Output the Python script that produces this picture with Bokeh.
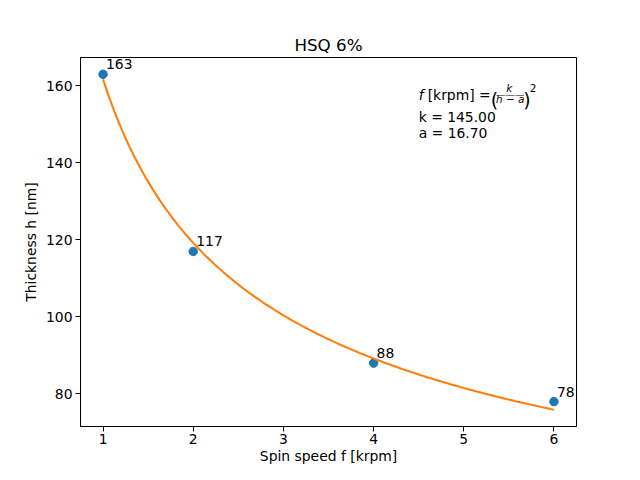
import numpy as np
from bokeh.plotting import figure
from bokeh.models import Range1d, Label, FixedTicker, ColumnDataSource, LabelSet
from bokeh.core.properties import value
from bokeh.embed import file_html
from bokeh.resources import INLINE

# Data
speed_krpm = [1, 2, 4, 6]
thickness_nm = [163, 117, 88, 78]
point_labels = ["163", "117", "88", "78"]
fit_k = 145.00
fit_a = 16.70
x_ticks = [1, 2, 3, 4, 5, 6]
y_ticks = [80, 100, 120, 140, 160]

# Fit curve h = a + k / sqrt(f)
f_fit = np.linspace(min(speed_krpm), max(speed_krpm), 200)
h_fit = fit_a + fit_k / np.sqrt(f_fit)

FONT = "DejaVu Sans"

p = figure(width=624, height=464, output_backend="svg", toolbar_location=None,
           x_range=Range1d(0.75, 6.25), y_range=Range1d(71.54, 167.36),
           frame_width=496, frame_height=369,
           min_border_left=80, min_border_right=48, min_border_top=57, min_border_bottom=38,
           title="HSQ 6%")
p.background_fill_color = "white"
p.border_fill_color = "white"
p.outline_line_color = "black"
p.outline_line_width = 1
p.xgrid.visible = False
p.ygrid.visible = False

p.title.align = "center"
p.title.text_font = FONT
p.title.text_font_size = "16.7px"
p.title.text_font_style = "normal"
p.title.text_color = "black"
p.title.standoff = 6

for ax in (p.xaxis[0], p.yaxis[0]):
    ax.axis_line_color = "black"
    ax.axis_line_width = 1
    ax.major_tick_line_color = "black"
    ax.major_tick_line_width = 1
    ax.major_tick_out = 5
    ax.major_tick_in = 0
    ax.minor_tick_line_color = None
    ax.major_label_text_font = FONT
    ax.major_label_text_font_size = "13.9px"
    ax.major_label_text_color = "black"
    ax.major_label_standoff = 3
    ax.axis_label_text_font = FONT
    ax.axis_label_text_font_size = "13.9px"
    ax.axis_label_text_font_style = "normal"
    ax.axis_label_text_color = "black"
    ax.axis_label_standoff = 4

p.xaxis[0].ticker = FixedTicker(ticks=x_ticks)
p.yaxis[0].ticker = FixedTicker(ticks=y_ticks)
p.xaxis[0].axis_label = "Spin speed f [krpm]"
p.yaxis[0].axis_label = "Thickness h [nm]"
p.xaxis[0].axis_label_standoff = 1
p.xaxis[0].major_label_standoff = 2

src = ColumnDataSource(dict(x=speed_krpm, y=thickness_nm, t=point_labels))
p.scatter("x", "y", source=src, size=8.5, fill_color="#1f77b4", line_color="#1f77b4")
p.line(f_fit, h_fit, line_color="#ff7f0e", line_width=2.1)

p.add_layout(LabelSet(x="x", y="y", text="t", source=src, x_offset=3, y_offset=5,
                      text_font=value(FONT), text_font_size="13.9px", text_color="black",
                      text_baseline="alphabetic"))

# Formula annotation block anchored in data space
ax0, ay0 = 4.5, 146.75

def lab(text, dx, dy, size="13.9px", style="normal", align="left"):
    p.add_layout(Label(x=ax0, y=ay0, x_offset=dx, y_offset=dy + 4, text=text,
                       text_font=FONT, text_font_size=size, text_font_style=style,
                       text_color="black", text_align=align, text_baseline="alphabetic"))

lab("f", 0, 37.7, style="italic")
lab("[krpm] =", 9, 37.7)
lab("(", 72, 33, size="19px")
lab("k", 90.5, 44.5, size="10.5px", style="italic", align="center")
lab("\u2014\u2014\u2014", 91.5, 38.5, size="9.5px", align="center")
lab("h \u2212 a", 91.5, 33.5, size="10.5px", style="italic", align="center")
lab(")", 104.5, 33, size="19px")
lab("2", 111, 44.5, size="10.5px")
lab(f"k = {fit_k:.2f}", 0, 15.5)
lab(f"a = {fit_a:.2f}", 0, 0)

open("out.html", "w").write(file_html(p, INLINE))
